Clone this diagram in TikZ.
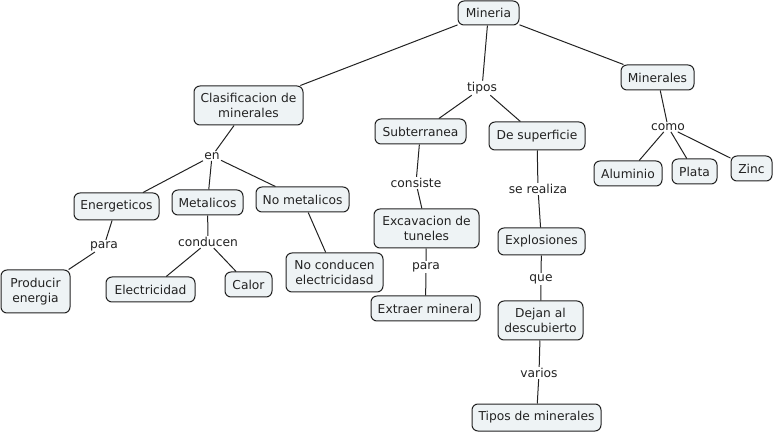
\documentclass[tikz,border=0pt]{standalone}
\usepackage{fontspec}
\setmainfont{DejaVu Sans}
\definecolor{boxfill}{HTML}{EEF3F5}
\definecolor{ink}{HTML}{222222}
\begin{document}
\begin{tikzpicture}[x=0.75pt,y=-0.75pt,
  box/.style={draw=ink, fill=boxfill, rounded corners=4.5pt, line width=0.75pt,
    font=\fontsize{9.2pt}{11.5pt}\selectfont, text=ink, align=center, inner sep=1pt},
  wh/.style 2 args={minimum width=#1*0.75pt, minimum height=#2*0.75pt},
  lab/.style={fill=white, inner sep=0.8pt, font=\fontsize{9.2pt}{11pt}\selectfont, text=ink},
  con/.style={draw=ink, line width=0.75pt}]
\path[use as bounding box] (0,0) rectangle (774,434);
% concepts
\node[box, wh={61}{24}] (min) at (488.5,13) {Mineria};
\node[box, wh={109}{39}] (cla) at (248.5,105.5) {Clasificacion de\\minerales};
\node[box, wh={91}{25}] (sub) at (420.5,131.5) {Subterranea};
\node[box, wh={96}{28}] (sup) at (537,136) {De superficie};
\node[box, wh={73}{25}] (mis) at (657.5,77.5) {Minerales};
\node[box, wh={68}{25}] (alu) at (628,173.5) {Aluminio};
\node[box, wh={45}{25}] (pla) at (694.5,171.5) {Plata};
\node[box, wh={41}{25}] (zin) at (751.5,168.5) {Zinc};
\node[box, wh={85}{27}] (ene) at (116.5,206.5) {Energeticos};
\node[box, wh={71}{25}] (met) at (207.5,202.5) {Metalicos};
\node[box, wh={93}{25}] (nom) at (302.5,199.5) {No metalicos};
\node[box, wh={69}{43}] (pro) at (35.5,291.5) {Producir\\energia};
\node[box, wh={89}{25}] (ele) at (150.5,289.5) {Electricidad};
\node[box, wh={47}{25}] (cal) at (248.5,284.5) {Calor};
\node[box, wh={97}{39}] (noc) at (334.5,272.5) {No conducen\\electricidasd};
\node[box, wh={105}{39}] (exc) at (426.5,228.5) {Excavacion de\\tuneles};
\node[box, wh={109}{25}] (ext) at (425.5,308.5) {Extraer mineral};
\node[box, wh={87}{27}] (exp) at (541.5,241.5) {Explosiones};
\node[box, wh={85}{39}] (dej) at (540.5,320.5) {Dejan al\\descubierto};
\node[box, wh={129}{27}] (tip) at (536.5,417.5) {Tipos de minerales};
% linking phrases
\node[lab] (ltipos) at (482,88) {tipos};
\node[lab] (len) at (212,156) {en};
\node[lab] (lcomo) at (668,127) {como};
\node[lab] (lpara1) at (104,246) {para};
\node[lab] (lcond) at (208,242) {conducen};
\node[lab] (lcons) at (416,183) {consiste};
\node[lab] (lsere) at (538,189) {se realiza};
\node[lab] (lpara2) at (426,267) {para};
\node[lab] (lque) at (541,279) {que};
\node[lab] (lvar) at (539,373) {varios};
% connectors
\draw[con] (min) -- (cla);
\draw[con] (min) -- (ltipos);
\draw[con] (ltipos) -- (sub);
\draw[con] (ltipos) -- (sup);
\draw[con] (min) -- (mis);
\draw[con] (mis) -- (lcomo);
\draw[con] (lcomo) -- (alu);
\draw[con] (lcomo) -- (pla);
\draw[con] (lcomo) -- (zin);
\draw[con] (cla) -- (len);
\draw[con] (len) -- (ene);
\draw[con] (len) -- (met);
\draw[con] (len) -- (nom);
\draw[con] (ene) -- (lpara1);
\draw[con] (lpara1) -- (pro);
\draw[con] (met) -- (lcond);
\draw[con] (lcond) -- (ele);
\draw[con] (lcond) -- (cal);
\draw[con] (nom) -- (noc);
\draw[con] (sub) -- (lcons);
\draw[con] (lcons) -- (exc);
\draw[con] (exc) -- (lpara2);
\draw[con] (lpara2) -- (ext);
\draw[con] (sup) -- (lsere);
\draw[con] (lsere) -- (exp);
\draw[con] (exp) -- (lque);
\draw[con] (lque) -- (dej);
\draw[con] (dej) -- (lvar);
\draw[con] (lvar) -- (tip);
\end{tikzpicture}
\end{document}
